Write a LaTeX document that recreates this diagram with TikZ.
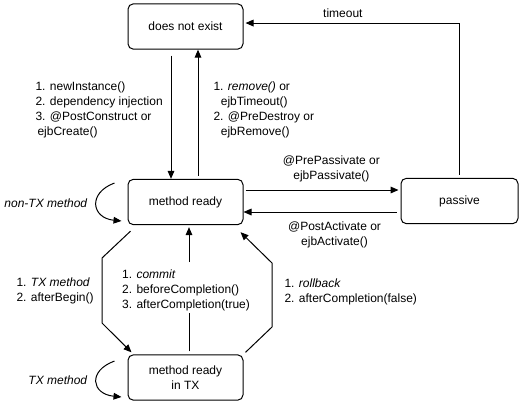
\documentclass[tikz,border=0pt]{standalone}
\usepackage{fontspec}
\setmainfont{Liberation Sans}
\usetikzlibrary{arrows.meta}

\begin{document}
\begin{tikzpicture}[x=0.75pt, y=-0.75pt, line width=0.75pt,
        font=\fontsize{9}{11.25}\selectfont,
        nodes={inner sep=0pt, align=center},
        stav/.style={draw, rounded corners=4pt, minimum width=86.25pt, minimum height=34pt},
        popis/.style={align=left},
        sipka/.style={-{Triangle[length=6pt, width=5pt]}}]
        \useasboundingbox (0,0) rectangle (520,404);

        % stavy
        \node[stav] (neex) at (185.5,26.5) {does not exist};
        \node[stav] (ready) at (185.5,202) {method ready};
        \node[stav, minimum width=87.75pt] (pasiv) at (459.5,201) {passive};
        \node[stav] (readytx) at (185.5,377.5) {method ready\\in TX};

        % vznik a zánik
        \draw[sipka, shorten <=4.5pt] ([shift={(-14.5,0)}]neex.south) -- ([shift={(-14.5,0)}]ready.north);
        \draw[sipka, shorten <=2.25pt] ([shift={(12.5,0)}]ready.north) -- ([shift={(12.5,0)}]neex.south);
        \node[popis, anchor=west] (vznik) at (35,109.5)
            {1. newInstance()\\2. dependency injection\\3. @PostConstruct or\\\hspace*{1.5pt}ejbCreate()};
        \node[popis, anchor=west] (zanik) at (213,109.5)
            {1. \textit{remove()} or\\\hspace*{5.5pt}ejbTimeout()\\2. @PreDestroy or\\\hspace*{5.5pt}ejbRemove()};

        % timeout
        \draw[sipka, shorten <=2.25pt, shorten >=1.5pt] (pasiv.north)
            |- node[pos=0.77, above=3.5pt] {timeout} ([yshift=2.6pt]neex.east);

        % pasivace a aktivace
        \draw[sipka, shorten <=1.5pt, shorten >=1.5pt] ([yshift=9pt]ready.east)
            -- node[pos=0.56, above=5.5pt] {@PrePassivate or\\ejbPassivate()}
            ([yshift=9pt]ready.east -| pasiv.west);
        \draw[sipka, shorten <=3pt] ([yshift=-8.25pt]pasiv.west)
            -- node[pos=0.42, below=7pt] {@PostActivate or\\ejbActivate()}
            ([yshift=-8.25pt]pasiv.west -| ready.east);

        % smyčky
        \draw[sipka] ([shift={(-13,-19)}]ready.west)
            .. controls +(-27,10) and +(-30,-3) .. ([shift={(-6,19)}]ready.west);
        \node[anchor=east] (nontx) at (88,203) {\textit{non-TX method}};
        \draw[sipka] ([shift={(-13,-16.5)}]readytx.west)
            .. controls +(-27,10) and +(-30,-3) .. ([shift={(-6,19.5)}]readytx.west);
        \node[anchor=east] (txm) at (88,380) {\textit{TX method}};

        % transakce
        \coordinate (l1) at (102,258);
        \coordinate (l2) at (102,323);
        \draw[sipka] ([shift={(3,6)}]ready.south west) -- (l1) -- (l2) -- ([shift={(4,-2)}]readytx.north west);
        \node[popis, anchor=west] (zacatek) at (16,290.5) {1. \textit{TX method}\\2. afterBegin()};

        \node[popis] (commit) at (186,290) {1. \textit{commit}\\2. beforeCompletion()\\3. afterCompletion(true)};
        \draw[shorten <=2.25pt, shorten >=1.5pt] ([shift={(3.5,0)}]readytx.north) -- ([shift={(3.5,0)}]readytx.north |- commit.south);
        \draw[sipka, shorten <=5pt, shorten >=1.5pt] ([shift={(3.5,0)}]ready.south |- commit.north) -- ([shift={(3.5,0)}]ready.south);

        \coordinate (r1) at (272,327);
        \coordinate (r2) at (272,263);
        \draw[sipka] ([shift={(2,-2)}]readytx.north east) -- (r1) -- (r2) -- ([shift={(-3,7)}]ready.south east);
        \node[popis, anchor=west] (rollback) at (284,291.5) {1. \textit{rollback}\\2. afterCompletion(false)};

    \end{tikzpicture}
\end{document}
